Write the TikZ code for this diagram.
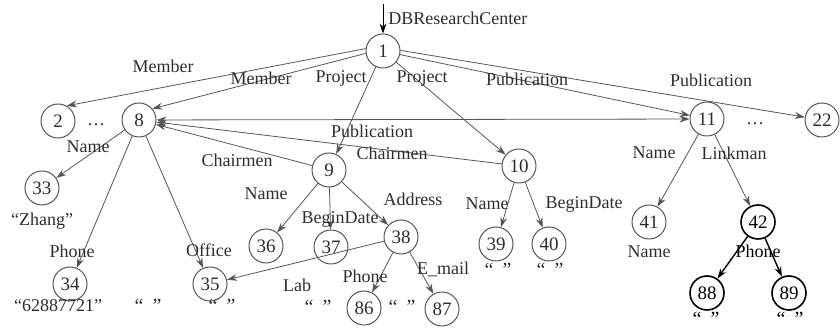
\documentclass[tikz,border=0pt]{standalone}
\usepackage{fontspec}
\setmainfont{Liberation Serif}
\usetikzlibrary{arrows.meta}
\definecolor{edgegray}{RGB}{85,85,85}
\definecolor{textgray}{RGB}{45,45,45}
\tikzset{
  vertex/.style={circle, draw=edgegray, minimum size=17pt, inner sep=0pt,
    line width=0.5pt, font=\fontsize{9.5}{10}\selectfont, text=textgray},
  boldvertex/.style={vertex, draw=black, line width=0.8pt, text=black},
  arrow/.style={-{Stealth[length=5pt,width=3.4pt]}, line width=0.4pt, color=edgegray},
  boldarrow/.style={-{Stealth[length=5pt,width=3.4pt]}, line width=0.7pt, color=black},
  lbl/.style={font=\fontsize{9}{10}\selectfont, text=textgray, inner sep=1pt},
  quot/.style={lbl, font=\fontsize{10}{10}\selectfont}
}
\newcommand{\emptyval}{“\hspace{4.5pt}”}

\begin{document}
\begin{tikzpicture}[x=0.5pt, y=-0.5pt]
  \useasboundingbox (0,0) rectangle (840,330);

  % Root
  \coordinate (root) at (383,4);
  \node[vertex] (n1) at (383,51) {1};
  \node[lbl, anchor=west] (lRoot) at (386,18) {DBResearchCenter};
  \draw[arrow, color=black] (root) -- (n1);

  % First level
  \node[vertex] (n2) at (58,121) {2};
  \node[vertex] (n8) at (139,120) {8};
  \node[vertex] (n9) at (329,170) {9};
  \node[vertex] (n10) at (519,166) {10};
  \node[vertex] (n11) at (707,119) {11};
  \node[vertex] (n22) at (822,120) {22};
  \node[lbl] (dotsA) at (96,125) {\dots};
  \node[lbl] (dotsB) at (755,124) {\dots};

  \draw[arrow] (n1.172) -- (n2.60);
  \draw[arrow] (n1.188) -- (n8.40);
  \draw[arrow] (n1) -- (n9);
  \draw[arrow] (n1) -- (n10);
  \draw[arrow] (n1.-12) -- (n11);
  \draw[arrow] (n1.2) -- (n22);
  \node[lbl] (lMember1) at (163,66) {Member};
  \node[lbl] (lMember2) at (261,78) {Member};
  \node[lbl] (lProject1) at (341,78) {Project};
  \node[lbl] (lProject2) at (422,78) {Project};
  \node[lbl] (lPub1) at (527,79) {Publication};
  \node[lbl] (lPub2) at (711,80) {Publication};

  % Cross links
  \draw[arrow, {Stealth[length=5pt,width=3.4pt]}-{Stealth[length=5pt,width=3.4pt]}] (n8) -- (n11);
  \node[lbl] (lPub3) at (372,131) {Publication};
  \draw[arrow] (n9) -- (n8);
  \node[lbl] (lChair1) at (237,160) {Chairmen};
  \draw[arrow] (n10) -- (n8);
  \node[lbl] (lChair2) at (392,153) {Chairmen};

  % Member 8
  \node[vertex] (n33) at (42,188) {33};
  \node[vertex] (n34) at (70,284) {34};
  \node[vertex] (n35) at (210,284) {35};
  \draw[arrow] (n8) -- (n33);
  \draw[arrow] (n8) -- (n34);
  \draw[arrow] (n8) -- (n35);
  \node[lbl] (lName8) at (88,147) {Name};
  \node[lbl] (lPhone8) at (72,251) {Phone};
  \node[lbl] (lOffice) at (209,250) {Office};
  \node[lbl] (v33) at (42,221) {“Zhang”};
  \node[lbl] (v34) at (58,306) {“62887721”};
  \node[quot] (qA) at (148,306) {\emptyval};
  \node[quot] (qB) at (222,306) {\emptyval};

  % Project 9
  \node[vertex] (n36) at (266,246) {36};
  \node[vertex] (n37) at (331,247) {37};
  \node[vertex] (n38) at (401,237) {38};
  \draw[arrow] (n9) -- (n36);
  \draw[arrow] (n9) -- (n37);
  \draw[arrow] (n9) -- (n38);
  \node[lbl] (lName9) at (266,194) {Name};
  \node[lbl] (lBegin9) at (340,219) {BeginDate};
  \node[lbl] (lAddr) at (413,199) {Address};

  % Address 38
  \node[vertex] (n86) at (364,308) {86};
  \node[vertex] (n87) at (442,309) {87};
  \draw[arrow] (n38) -- (n35);
  \draw[arrow] (n38) -- (n86);
  \draw[arrow] (n38) -- (n87);
  \node[lbl] (lLab) at (297,285) {Lab};
  \node[lbl] (lPhone38) at (365,276) {Phone};
  \node[lbl] (lMail) at (443,269) {E\_mail};
  \node[quot] (qC) at (318,307) {\emptyval};
  \node[quot] (qD) at (402,307) {\emptyval};

  % Project 10
  \node[vertex] (n39) at (496,244) {39};
  \node[vertex] (n40) at (549,244) {40};
  \draw[arrow] (n10) -- (n39);
  \draw[arrow] (n10) -- (n40);
  \node[lbl] (lName10) at (487,204) {Name};
  \node[lbl] (lBegin10) at (584,204) {BeginDate};
  \node[quot] (qE) at (498,270) {\emptyval};
  \node[quot] (qF) at (550,270) {\emptyval};

  % Publication 11
  \node[vertex] (n41) at (649,222) {41};
  \node[boldvertex] (n42) at (758,222) {42};
  \draw[arrow] (n11) -- (n41);
  \draw[arrow] (n11) -- (n42);
  \node[lbl] (lName11) at (654,153) {Name};
  \node[lbl] (lLink) at (734,153) {Linkman};
  \node[lbl] (lName41) at (649,252) {Name};

  % Linkman 42
  \node[boldvertex] (n88) at (707,293) {88};
  \node[boldvertex] (n89) at (789,293) {89};
  \draw[boldarrow] (n42) -- (n88);
  \draw[boldarrow] (n42) -- (n89);
  \node[lbl, text=black] (lPhone42) at (758,251) {Phone};
  \node[quot, text=black, inner sep=0pt] (qG) at (706,319) {\emptyval};
  \node[quot, text=black, inner sep=0pt] (qH) at (790,319) {\emptyval};
\end{tikzpicture}
\end{document}
